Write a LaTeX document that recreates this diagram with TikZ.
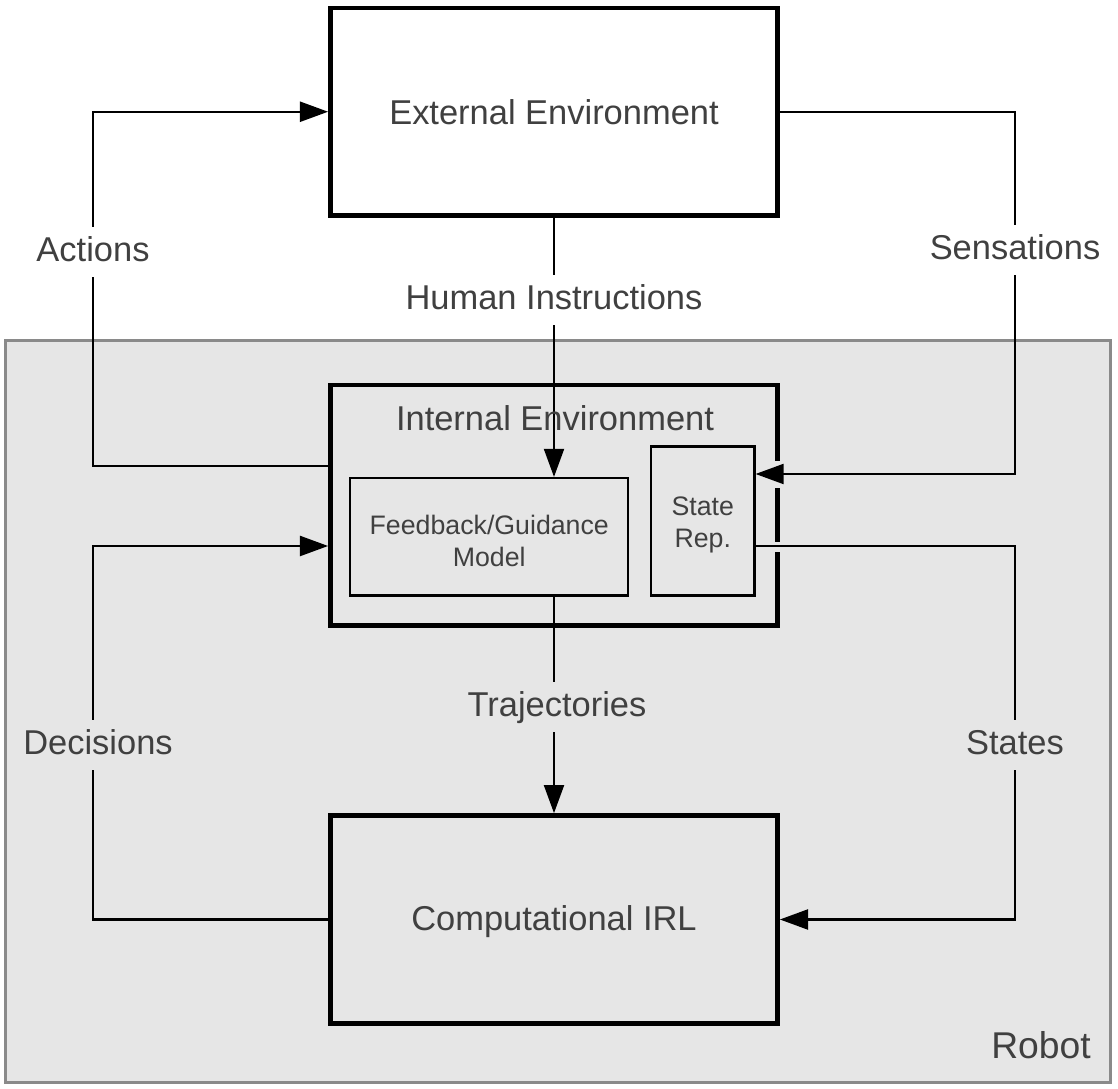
\documentclass[tikz,border=0pt]{standalone}
\usepackage{fontspec}
\setmainfont{Liberation Sans}
\usetikzlibrary{positioning,arrows.meta}
\definecolor{robotbg}{HTML}{E6E6E6}
\definecolor{robotline}{HTML}{8A8A8A}
\definecolor{txt}{HTML}{404040}

\begin{document}
\begin{tikzpicture}
                    [x=0.01cm, y=-0.01cm,
                    font=\fontsize{9.8}{11.5}\selectfont, text=txt,
                    big/.style={rectangle,
                        draw=black, line width=1.3pt},
                    small/.style={rectangle,
                        draw=black, line width=0.6pt,
                        font=\fontsize{7.6}{9}\selectfont, align=center},
                    robot/.style={rectangle,
                        fill=robotbg, draw=robotline, line width=0.85pt},
                    lbl/.style={inner sep=2.2pt,
                        text height=7.5pt, text depth=2pt},
                    ln/.style={draw=black, line width=0.6pt},
                    arr/.style={ln, -{Triangle[length=8pt,width=5.7pt]}},
                    gap/.style={fill=robotbg}]

                    \useasboundingbox (0,0) rectangle (1118,1089);

                    \node[robot, minimum width=11.045cm, minimum height=7.42cm]
                        (robot) at (557.75,711.5) {};
                    \node[font=\fontsize{10.6}{12}\selectfont] (rob) at (1041,1045) {Robot};

                    \node[big, fill=white, minimum width=4.47cm, minimum height=2.075cm]
                        (ext) at (554,111.75) {External Environment};
                    \node[big, minimum width=4.47cm, minimum height=2.405cm]
                        (int) at (554,505.25) {};
                    \node[big, minimum width=4.47cm, minimum height=2.08cm]
                        (irl) at (554,919.5) {\rule{0pt}{8.2pt}Computational IRL};

                    % border is broken where the lines cross it
                    \fill[gap] (int.east |- 0,461) ++(-5,0) rectangle ++(10,27);
                    \fill[gap] (int.east |- 0,542) ++(-5,0) rectangle ++(10,10);

                    \node[small, minimum width=2.775cm, minimum height=1.175cm]
                        (fb) at (489.25,536.75) {\rule{0pt}{7.9pt}Feedback/Guidance\\Model};
                    \node[small, minimum width=1.035cm, minimum height=1.49cm]
                        (rep) at (702.75,521) {\rule{0pt}{7.4pt}State\\Rep.};

                    \node[lbl] (act) at (93,252) {Actions};
                    \node[lbl] (sen) at (1015,250) {Sensations};
                    \node[lbl] (hum) at (554,300) {Human Instructions};
                    \node[lbl] (traj) at (557,707) {Trajectories};
                    \node[lbl] (dec) at (98,745) {Decisions};
                    \node[lbl] (sta) at (1015,745) {States};

                    \draw[ln] (int.west |- 0,466) -| (act);
                    \draw[arr] (act) |- (ext);
                    \draw[ln] (ext) -| (sen);
                    \draw[arr] (sen) |- (rep.east |- 0,474);
                    \draw[ln] (ext) -- (ext.south |- hum.north);
                    \draw[arr] (ext.south |- hum.south) -- (ext.south |- fb.north);
                    \draw[ln] (ext.south |- fb.south) -- (ext.south |- traj.north);
                    \draw[arr] (ext.south |- traj.south) -- (irl);
                    \draw[ln] (irl) -| ([xshift=-0.05cm]dec.south);
                    \draw[arr] ([xshift=-0.05cm]dec.north) |- (int.west |- 0,546);
                    \draw[ln] (rep.east |- 0,546) -| (sta);
                    \draw[arr] (sta) |- (irl);

                    \node (intlbl) at (555,418) {Internal Environment};
                \end{tikzpicture}
\end{document}
